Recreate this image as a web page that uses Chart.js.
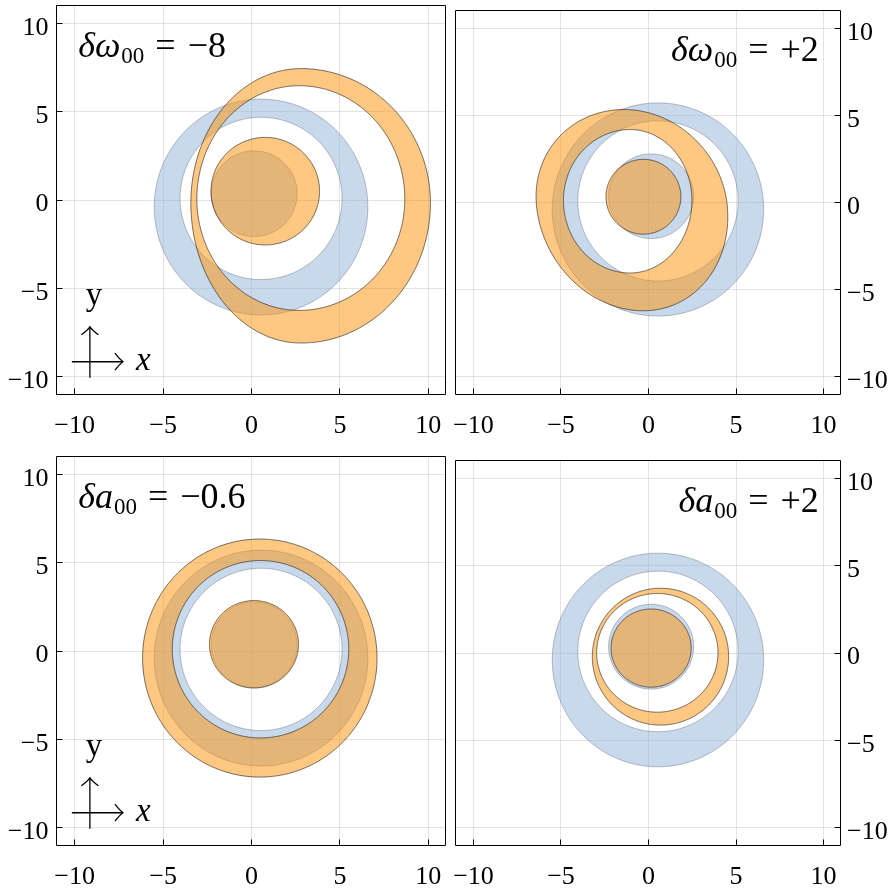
<!DOCTYPE html>
<html><head><meta charset="utf-8">
<script src="https://cdn.jsdelivr.net/npm/chart.js@4.4.1/dist/chart.umd.min.js"></script>
<style>
html,body{margin:0;padding:0;background:#fff;}
#wrap{position:relative;width:894px;height:891px;overflow:hidden;background:#fff;}
canvas{position:absolute;}
</style></head><body>
<div id="wrap">
<canvas id="c0" width="450" height="445" style="left:0px;top:0px"></canvas>
<canvas id="c1" width="444" height="445" style="left:450px;top:0px"></canvas>
<canvas id="c2" width="450" height="446" style="left:0px;top:445px"></canvas>
<canvas id="c3" width="444" height="446" style="left:450px;top:445px"></canvas>
</div>
<script>
// ---------------- data ----------------
const tickValues = [-10, -5, 0, 5, 10];
const axisMin = -11, axisMax = 11;
const panelSymbol = ['ω', 'ω', 'a', 'a'];
const panelValue = ['−8', '+2', '−0.6', '+2'];
// boundary shapes: [cx, cy, rRight, rTop, rLeft, rBottom, shear]
const blueDisc      = [0.15, 0.36, 2.43, 2.43, 2.43, 2.43, 0];
const blueRingOuter = [0.54, -0.40, 6.04, 6.12, 6.04, 6.12, 0];
const blueRingInner = [0.54, 0.09, 4.58, 4.60, 4.58, 4.60, 0];
const orangeDisc = [
  [0.78, 0.50, 3.07, 3.05, 3.07, 3.05, 0],
  [-0.29, 0.33, 2.14, 2.15, 2.14, 2.15, 0],
  [0.14, 0.38, 2.52, 2.48, 2.52, 2.48, 0],
  [0.15, 0.28, 2.29, 2.24, 2.29, 2.24, 0]
];
const orangeRingOuter = [
  [2.80, -0.17, 7.32, 7.62, 6.23, 7.94, 0],
  [-0.87, -0.18, 5.37, 5.52, 5.53, 6.04, -0.095],
  [0.47, -0.40, 6.63, 6.75, 6.63, 6.75, 0],
  [0.69, -0.21, 3.89, 3.92, 3.90, 3.92, 0]
];
const orangeRingInner = [
  [2.70, 0.05, 5.97, 6.43, 5.79, 6.31, 0],
  [-1.05, 0.12, 3.53, 4.07, 3.81, 4.17, 0],
  [0.51, 0.10, 4.99, 5.03, 4.99, 5.03, 0],
  [0.50, 0.01, 3.47, 3.40, 3.46, 3.40, 0]
];

// ---------------- styles / layout ----------------
const SERIF = '"Liberation Serif", "DejaVu Serif", serif';
const blueFill = 'rgba(147,179,217,0.5)';
const blueStroke = 'rgba(40,50,70,0.30)';
const orangeFill = 'rgba(255,145,5,0.5)';
const orangeStroke = 'rgba(0,0,0,0.55)';
const gridColor = 'rgba(0,0,0,0.11)';

const layoutCfg = [
  {pad:{left:0, top:6,  right:4, bottom:0}, yPos:'left',  yW:57, xH:51, align:'left',  arrows:true},
  {pad:{left:6, top:11, right:0, bottom:0}, yPos:'right', yW:53, xH:51, align:'right', arrows:false},
  {pad:{left:0, top:12, right:4, bottom:0}, yPos:'left',  yW:57, xH:46, align:'left',  arrows:true},
  {pad:{left:6, top:16, right:0, bottom:0}, yPos:'right', yW:53, xH:46, align:'right', arrows:false}
];

const NPTS = 240;
function boundary(p, reverse) {
  const [cx, cy, rR, rT, rL, rB, sh] = p;
  const pts = [];
  for (let i = 0; i <= NPTS; i++) {
    const t = 2 * Math.PI * (reverse ? NPTS - i : i) / NPTS;
    const c = Math.cos(t), s = Math.sin(t);
    const dx = (c >= 0 ? rR : rL) * c;
    const dy = (s >= 0 ? rT : rB) * s;
    pts.push({x: cx + dx + sh * dy, y: cy + dy});
  }
  return pts;
}

function ringDatasets(outer, inner, fillC, strokeC) {
  return [
    {data: boundary(outer, false).concat(boundary(inner, true)), fill: 'shape',
     backgroundColor: fillC, borderWidth: 0, borderColor: 'transparent'},
    {data: boundary(outer, false), fill: false, borderColor: strokeC, borderWidth: 1},
    {data: boundary(inner, false), fill: false, borderColor: strokeC, borderWidth: 1}
  ];
}
function discDataset(p, fillC, strokeC) {
  return {data: boundary(p, false), fill: 'shape', backgroundColor: fillC,
          borderColor: strokeC, borderWidth: 1};
}

function fmtTick(v) { return v < 0 ? '−' + Math.abs(v) : String(v); }

// ---------------- plugins ----------------
const framePlugin = {
  id: 'frame',
  afterDatasetsDraw(chart, args, opts) {
    const {ctx, chartArea: a, scales: {x, y}} = chart;
    ctx.save();
    ctx.strokeStyle = '#000';
    ctx.lineWidth = 1;
    const L = a.left - 0.5, R = a.right - 0.5, T = a.top - 0.5, B = a.bottom + 0.5;
    ctx.beginPath();
    ctx.rect(L, T, R - L, B - T);
    ctx.stroke();
    ctx.beginPath();
    for (const v of tickValues) {
      const px = Math.round(x.getPixelForValue(v) - 0.5) + 0.5;
      ctx.moveTo(px, B); ctx.lineTo(px, B - 6);
      const py = Math.round(y.getPixelForValue(v) - 0.5) + 0.5;
      if (opts.yPos === 'left') { ctx.moveTo(L, py); ctx.lineTo(L + 6, py); }
      else { ctx.moveTo(R, py); ctx.lineTo(R - 6, py); }
    }
    ctx.stroke();
    ctx.restore();
  }
};

const annotPlugin = {
  id: 'annot',
  afterDatasetsDraw(chart, args, o) {
    const {ctx, scales: {x, y}} = chart;
    ctx.save();
    ctx.fillStyle = '#000';
    ctx.textBaseline = 'alphabetic';
    ctx.textAlign = 'left';
    const big = 36, small = 23;
    const parts = [
      {t: 'δ' + o.sym, font: `italic ${big}px ${SERIF}`, dy: 0, gap: 1},
      {t: '00', font: `${small}px ${SERIF}`, dy: 6, gap: 11},
      {t: '=', font: `${big}px ${SERIF}`, dy: 0, gap: 12},
      {t: o.val, font: `${big}px ${SERIF}`, dy: 0, gap: 0}
    ];
    let total = 0;
    for (const p of parts) { ctx.font = p.font; p.w = ctx.measureText(p.t).width; total += p.w + p.gap; }
    const ax = x.getPixelForValue(o.ax), ay = y.getPixelForValue(o.ay);
    let cx = o.align === 'left' ? ax : ax - total;
    for (const p of parts) { ctx.font = p.font; ctx.fillText(p.t, cx, ay + p.dy); cx += p.w + p.gap; }

    if (o.arrows) {
      const X = v => x.getPixelForValue(v), Y = v => y.getPixelForValue(v);
      ctx.strokeStyle = '#000';
      ctx.lineWidth = 1.3;
      const vx = X(-9.14), vy0 = Y(-10.08), vy1 = Y(-7.19);
      ctx.beginPath(); ctx.moveTo(vx, vy0); ctx.lineTo(vx, vy1); ctx.stroke();
      ctx.beginPath();
      ctx.moveTo(vx - 8.5, vy1 + 8); ctx.quadraticCurveTo(vx - 2, vy1 + 3, vx, vy1);
      ctx.quadraticCurveTo(vx + 2, vy1 + 3, vx + 8.5, vy1 + 8); ctx.stroke();
      const hy = Y(-9.17), hx0 = X(-10.16), hx1 = X(-7.27);
      ctx.beginPath(); ctx.moveTo(hx0, hy); ctx.lineTo(hx1, hy); ctx.stroke();
      ctx.beginPath();
      ctx.moveTo(hx1 - 8, hy - 8.5); ctx.quadraticCurveTo(hx1 - 3, hy - 2, hx1, hy);
      ctx.quadraticCurveTo(hx1 - 3, hy + 2, hx1 - 8, hy + 8.5); ctx.stroke();
      ctx.font = `33px ${SERIF}`;
      ctx.textAlign = 'center';
      ctx.fillText('y', X(-8.91), Y(-5.94));
      ctx.font = `italic 33px ${SERIF}`;
      ctx.textAlign = 'left';
      ctx.fillText('x', X(-6.53), Y(-9.63));
    }
    ctx.restore();
  }
};

// ---------------- charts ----------------
for (let k = 0; k < 4; k++) {
  const L = layoutCfg[k];
  const dsList = [
    ...ringDatasets(blueRingOuter, blueRingInner, blueFill, blueStroke),
    discDataset(blueDisc, blueFill, blueStroke),
    ...ringDatasets(orangeRingOuter[k], orangeRingInner[k], orangeFill, orangeStroke),
    discDataset(orangeDisc[k], orangeFill, orangeStroke)
  ];
  const n = dsList.length;
  dsList.forEach((d, i) => {
    d.order = n - i;
    d.pointRadius = 0;
    d.pointHoverRadius = 0;
    d.tension = 0.0001;
    d.spanGaps = false;
  });

  new Chart(document.getElementById('c' + k), {
    type: 'line',
    data: {datasets: dsList},
    plugins: [framePlugin, annotPlugin],
    options: {
      responsive: false,
      maintainAspectRatio: false,
      animation: false,
      events: [],
      layout: {padding: L.pad},
      plugins: {
        legend: {display: false},
        tooltip: {enabled: false},
        filler: {drawTime: 'beforeDatasetDraw'},
        frame: {yPos: L.yPos},
        annot: {sym: panelSymbol[k], val: panelValue[k], align: L.align,
                ax: L.align === 'left' ? -9.8 : 9.73, ay: 8.1, arrows: L.arrows}
      },
      scales: {
        x: {
          type: 'linear', position: 'bottom', min: axisMin, max: axisMax,
          afterBuildTicks: s => { s.ticks = tickValues.map(v => ({value: v})); },
          afterFit: s => { s.height = L.xH; s.paddingLeft = 0; s.paddingRight = 0; },
          grid: {color: gridColor, lineWidth: 1, drawTicks: false},
          border: {display: false},
          ticks: {color: '#000', font: {family: SERIF, size: 26}, padding: 17,
                  maxRotation: 0, autoSkip: false, callback: v => fmtTick(v)}
        },
        y: {
          type: 'linear', position: L.yPos, min: axisMin, max: axisMax,
          afterBuildTicks: s => { s.ticks = tickValues.map(v => ({value: v})); },
          afterFit: s => { s.width = L.yW; s.paddingTop = 0; s.paddingBottom = 0; },
          grid: {color: gridColor, lineWidth: 1, drawTicks: false},
          border: {display: false},
          ticks: {color: '#000', font: {family: SERIF, size: 26},
                  padding: L.yPos === 'left' ? 8.5 : 6, labelOffset: 4.5,
                  autoSkip: false, callback: v => fmtTick(v)}
        }
      }
    }
  });
}
</script>
</body></html>
